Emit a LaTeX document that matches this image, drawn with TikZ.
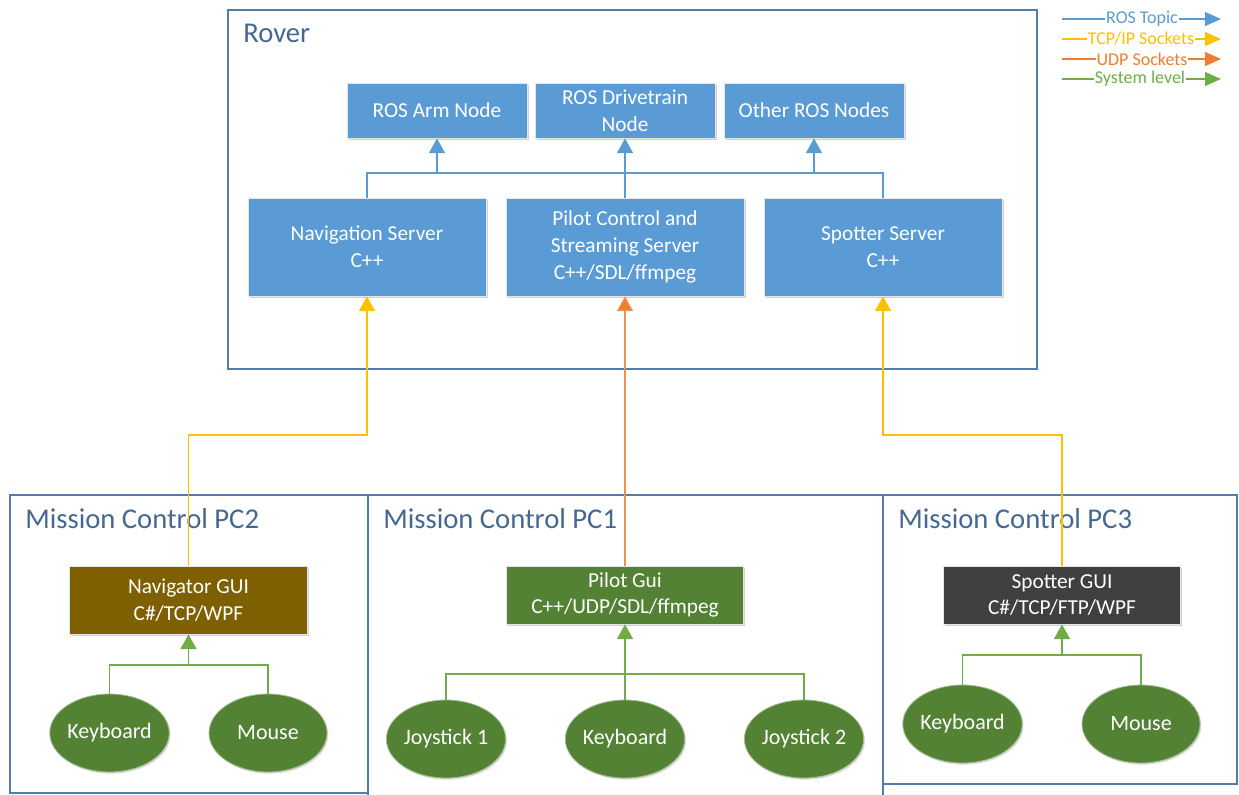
\documentclass[tikz,border=0pt]{standalone}
\usepackage{fontspec}
\setmainfont{Carlito}
\usetikzlibrary{arrows.meta,shapes.geometric,shadows}

\definecolor{framecol}{RGB}{84,124,170}
\definecolor{titletext}{RGB}{68,104,146}
\definecolor{rosblue}{RGB}{91,155,213}
\definecolor{tcpyel}{RGB}{255,192,0}
\definecolor{udporg}{RGB}{237,125,49}
\definecolor{sysgrn}{RGB}{112,173,71}
\definecolor{devgrn}{RGB}{84,130,53}
\definecolor{navbrown}{RGB}{127,96,0}
\definecolor{spotgray}{RGB}{64,64,64}

\begin{document}
\begin{tikzpicture}[x=0.75pt,y=-0.75pt,
  every node/.style={font=\fontsize{16}{20}\selectfont},
  framebox/.style={draw=framecol,line width=1.3pt},
  title/.style={anchor=base west,text=titletext,inner sep=0,
    font=\fontsize{21.5}{24}\selectfont},
  blk/.style={rectangle,align=center,text=white,inner sep=2pt,
    draw=white!80!gray,line width=0.6pt,
    drop shadow={shadow xshift=1.2pt,shadow yshift=-1.5pt,opacity=0.18,fill=black}},
  rosnode/.style={blk,fill=rosblue,minimum width=135pt,minimum height=41.25pt},
  server/.style={blk,fill=rosblue,minimum width=178.5pt,minimum height=73.5pt},
  gui/.style={blk,minimum width=178pt,minimum height=43.5pt},
  device/.style={ellipse,fill=devgrn,draw=devgrn!55!white,line width=0.6pt,
    text=white,inner sep=0,minimum width=88.5pt,minimum height=58.5pt,
    font=\fontsize{16.5}{20}\selectfont,
    drop shadow={shadow xshift=1pt,shadow yshift=-1.2pt,opacity=0.15,fill=black}},
  tip/.style={-{Triangle[length=11pt,width=12pt]}},
  legtip/.style={-{Triangle[length=12pt,width=10.5pt]}},
  rosline/.style={draw=rosblue,line width=1pt},
  tcpline/.style={draw=tcpyel,line width=1pt},
  udpline/.style={draw=udporg!85!white,line width=1pt},
  sysline/.style={draw=sysgrn,line width=1pt},
  legtext/.style={fill=white,inner xsep=0.6pt,inner ysep=0pt,
    font=\fontsize{13.5}{15}\selectfont}
]
\useasboundingbox (0,0) rectangle (1239,794);

% ---------- legend ----------
\coordinate (lgA1) at (1062,19);  \coordinate (lgB1) at (1221,19);
\coordinate (lgA2) at (1062,39);  \coordinate (lgB2) at (1221,39);
\coordinate (lgA3) at (1062,59);  \coordinate (lgB3) at (1221,59);
\coordinate (lgA4) at (1062,79);  \coordinate (lgB4) at (1221,79);
\draw[rosline,legtip] (lgA1) -- (lgB1);
\draw[tcpline,legtip] (lgA2) -- (lgB2);
\draw[draw=udporg,line width=1pt,legtip] (lgA3) -- (lgB3);
\draw[sysline,legtip] (lgA4) -- (lgB4);
\node[legtext,text=rosblue] (lgT1) at (1142,19) {ROS Topic};
\node[legtext,text=tcpyel] (lgT2) at (1141,39) {TCP/IP Sockets};
\node[legtext,text=udporg] (lgT3) at (1142,59) {UDP Sockets};
\node[legtext,text=sysgrn] (lgT4) at (1140,79) {System level};

% ---------- rover ----------
\draw[framebox] (228,10) rectangle (1037,369);
\node[title] (rovertitle) at (243,42) {Rover};

\node[rosnode] (arm)   at (437,110.5) {ROS Arm Node};
\node[rosnode] (drive) at (625,110.5) {ROS Drivetrain\\Node};
\node[rosnode] (other) at (814,110.5) {Other ROS Nodes};

\node[server] (nav)   at (367,247) {Navigation Server\\C++};
\node[server] (pilot) at (625,247) {Pilot Control and\\Streaming Server\\C++/SDL/ffmpeg};
\node[server] (spot)  at (883,247) {Spotter Server\\C++};

\coordinate (rosbus) at (0,173);
\draw[rosline] (nav.north) -- (nav.north |- rosbus) -- (spot.north |- rosbus) -- (spot.north);
\draw[rosline,tip] (arm.south |- rosbus) -- (arm.south);
\draw[rosline,tip] (pilot.north) -- (drive.south);
\draw[rosline,tip] (other.south |- rosbus) -- (other.south);

% ---------- mission control stations ----------
\draw[framebox] (368,495) rectangle (883,810);
\draw[framebox] (883,495) rectangle (1237,784);
\draw[framebox] (10,495) rectangle (368,793);
\node[title] (pc2title) at (25,528) {Mission Control PC2};
\node[title] (pc1title) at (383,528) {Mission Control PC1};
\node[title] (pc3title) at (898,528) {Mission Control PC3};

\node[gui,fill=navbrown,minimum height=51pt] (navgui) at (188.5,600) {Navigator GUI\\C\#/TCP/WPF};
\node[gui,fill=devgrn] (pilotgui) at (625,595) {Pilot Gui\\C++/UDP/SDL/ffmpeg};
\node[gui,fill=spotgray] (spotgui) at (1062,595) {Spotter GUI\\C\#/TCP/FTP/WPF};

% PC2 devices
\node[device] (kb2)    at (109.5,733) {Keyboard};
\node[device] (mouse2) at (268,733) {Mouse};
% PC1 devices
\node[device] (joy1) at (446,739) {Joystick 1};
\node[device] (kb1)  at (625,739) {Keyboard};
\node[device] (joy2) at (804,739) {Joystick 2};
% PC3 devices
\node[device] (kb3)    at (962.5,724) {Keyboard};
\node[device] (mouse3) at (1141,724) {Mouse};

% system-level links
\coordinate (bus2) at (0,665);
\coordinate (bus1) at (0,674);
\coordinate (bus3) at (0,655);
\draw[sysline] (kb2.north) -- (kb2.north |- bus2) -- (mouse2.north |- bus2) -- (mouse2.north);
\draw[sysline,tip] (navgui.south |- bus2) -- (navgui.south);
\draw[sysline] (joy1.north) -- (joy1.north |- bus1) -- (joy2.north |- bus1) -- (joy2.north);
\draw[sysline,tip] (kb1.north) -- (pilotgui.south);
\draw[sysline] (kb3.north) -- (kb3.north |- bus3) -- (mouse3.north |- bus3) -- (mouse3.north);
\draw[sysline,tip] (spotgui.south |- bus3) -- (spotgui.south);

% network links to the rover
\coordinate (netbus) at (0,435);
\draw[tcpline,tip] (navgui.north) -- (navgui.north |- netbus) -| (nav.south);
\draw[udpline,-{Triangle[length=11pt,width=12pt,fill=udporg]}] (pilotgui.north) -- (pilot.south);
\draw[tcpline,tip] (spotgui.north) -- (spotgui.north |- netbus) -| (spot.south);
\end{tikzpicture}
\end{document}
